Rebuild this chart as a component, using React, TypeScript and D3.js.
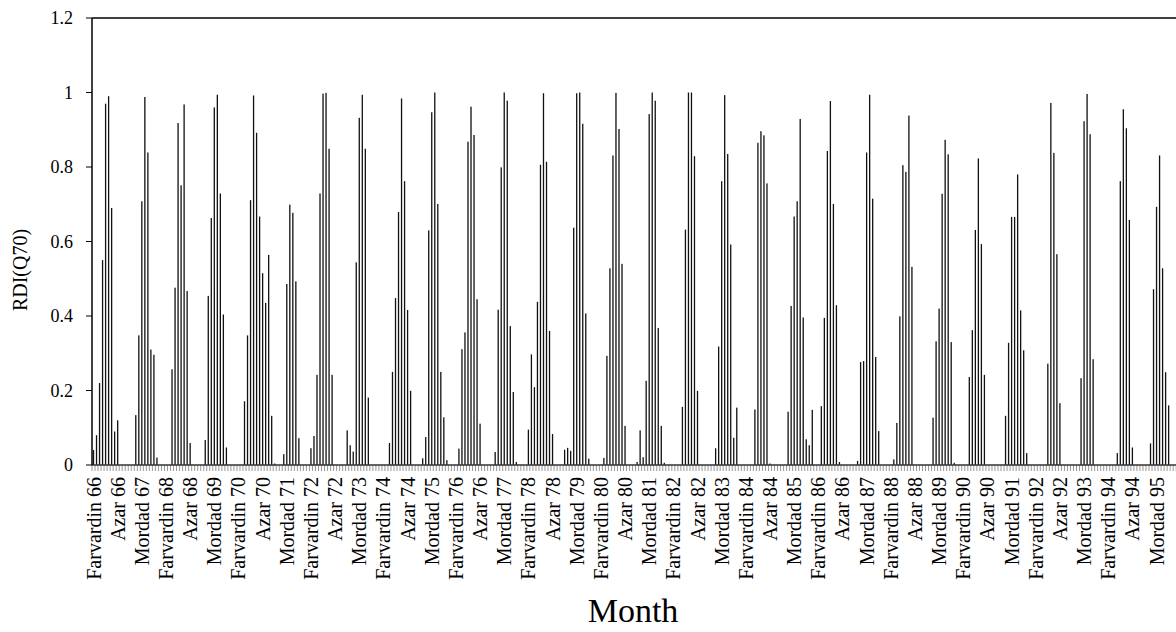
import React from 'react';
import * as d3 from 'd3';

// Persian calendar months, water-year order
const monthNames = [
  'Farvardin', 'Ordibehesht', 'Khordad', 'Tir', 'Mordad', 'Shahrivar',
  'Mehr', 'Aban', 'Azar', 'Dey', 'Bahman', 'Esfand',
];

const years = d3.range(66, 96);

// RDI(Q70), one row per year (Farvardin..Esfand)
const rdi = [
  0.04, 0.08, 0.22, 0.55, 0.97, 0.99, 0.69, 0.09, 0.12, 0, 0, 0, // 66
  0, 0, 0.134, 0.348, 0.708, 0.988, 0.839, 0.31, 0.296, 0.02, 0, 0, // 67
  0, 0, 0.257, 0.476, 0.918, 0.751, 0.968, 0.467, 0.059, 0, 0, 0, // 68
  0, 0.067, 0.454, 0.663, 0.96, 0.994, 0.729, 0.404, 0.047, 0, 0, 0, // 69
  0, 0, 0.171, 0.348, 0.711, 0.992, 0.892, 0.667, 0.515, 0.435, 0.564, 0.132, // 70
  0.004, 0, 0, 0.029, 0.486, 0.699, 0.677, 0.493, 0.072, 0, 0, 0, // 71
  0.045, 0.078, 0.242, 0.729, 0.997, 0.999, 0.849, 0.242, 0, 0, 0, 0, // 72
  0.093, 0.053, 0.036, 0.544, 0.932, 0.994, 0.849, 0.181, 0, 0, 0, 0, // 73
  0, 0, 0.059, 0.25, 0.448, 0.679, 0.984, 0.762, 0.416, 0.199, 0, 0, // 74
  0, 0.018, 0.075, 0.63, 0.947, 1.0, 0.701, 0.25, 0.128, 0.013, 0, 0, // 75
  0, 0.044, 0.311, 0.356, 0.868, 0.962, 0.886, 0.445, 0.111, 0, 0, 0, // 76
  0, 0.035, 0.417, 0.799, 1.0, 0.978, 0.373, 0.196, 0.008, 0, 0, 0, // 77
  0.095, 0.297, 0.209, 0.438, 0.806, 0.998, 0.814, 0.36, 0.083, 0, 0, 0, // 78
  0.041, 0.046, 0.038, 0.637, 0.998, 1.0, 0.916, 0.407, 0.017, 0, 0, 0, // 79
  0, 0.019, 0.293, 0.528, 0.831, 0.999, 0.902, 0.54, 0.105, 0, 0, 0, // 80
  0.008, 0.093, 0.021, 0.226, 0.942, 1.0, 0.978, 0.368, 0.105, 0.006, 0, 0, // 81
  0, 0, 0, 0.156, 0.632, 1.0, 1.0, 0.829, 0.199, 0, 0, 0, // 82
  0, 0, 0.045, 0.318, 0.762, 0.993, 0.835, 0.592, 0.073, 0.154, 0, 0, // 83
  0, 0, 0, 0.149, 0.865, 0.896, 0.885, 0.756, 0.004, 0, 0, 0, // 84
  0, 0, 0.143, 0.427, 0.667, 0.708, 0.929, 0.396, 0.069, 0.053, 0.148, 0, // 85
  0, 0.158, 0.395, 0.843, 0.977, 0.701, 0.429, 0.008, 0, 0, 0, 0, // 86
  0, 0.011, 0.276, 0.279, 0.839, 0.994, 0.715, 0.29, 0.091, 0, 0, 0, // 87
  0, 0.015, 0.113, 0.399, 0.805, 0.787, 0.938, 0.532, 0, 0, 0, 0, // 88
  0, 0, 0.127, 0.332, 0.42, 0.728, 0.873, 0.834, 0.33, 0.006, 0, 0, // 89
  0, 0, 0.236, 0.362, 0.631, 0.823, 0.593, 0.242, 0, 0, 0, 0, // 90
  0, 0, 0.132, 0.328, 0.666, 0.666, 0.78, 0.415, 0.308, 0.032, 0, 0, // 91
  0, 0, 0, 0, 0.272, 0.972, 0.838, 0.566, 0.166, 0, 0, 0, // 92
  0, 0, 0, 0.233, 0.923, 0.996, 0.888, 0.284, 0, 0, 0, 0, // 93
  0, 0, 0, 0.032, 0.762, 0.955, 0.904, 0.658, 0.047, 0, 0, 0, // 94
  0, 0, 0.058, 0.472, 0.693, 0.831, 0.528, 0.249, 0.16, 0, 0, 0, // 95
];

const yTicks = [0, 0.2, 0.4, 0.6, 0.8, 1, 1.2];
const labelEvery = 8;

const W = 1176;
const H = 632;
const margin = { top: 18, left: 92, bottom: 167 };
const plotRight = margin.left + 360 * 3.02;
const font = '"Liberation Serif", "Times New Roman", serif';

const App = () => {
  const months = years.flatMap(y => monthNames.map(m => ({ month: m, year: y })));
  const data = months.map((d, i) => ({ ...d, i, value: rdi[i] }));

  const x = d3
    .scaleBand<number>()
    .domain(data.map(d => d.i))
    .range([margin.left, plotRight])
    .padding(0);

  const y = d3
    .scaleLinear()
    .domain([0, 1.2])
    .range([H - margin.bottom, margin.top]);

  const barW = 1.3;
  const bw = x.bandwidth();
  const y0 = y(0);

  // tick marks sit between categories
  const boundaries = d3.range(data.length + 1).map(k => margin.left + k * bw);

  const labelled = data.filter(d => d.i % labelEvery === 0);

  return (
    <div style={{ position: 'absolute', left: 0, top: 0 }}>
      <svg width={W} height={H} style={{ display: 'block', background: '#fff' }}>
        {/* bars */}
        {data
          .filter(d => d.value > 0)
          .map(d => (
            <rect
              key={d.i}
              x={(x(d.i) as number) + bw / 2 - barW / 2}
              y={y(d.value)}
              width={barW}
              height={y0 - y(d.value)}
              fill="#111"
            />
          ))}

        {/* x ticks */}
        {boundaries.map((bx, k) => (
          <line key={k} x1={bx} x2={bx} y1={y0} y2={y0 + 6} stroke="#999" strokeWidth={1} />
        ))}
        <line x1={margin.left} x2={plotRight} y1={y0} y2={y0} stroke="#333" strokeWidth={1.5} />

        {/* frame */}
        <line x1={margin.left} x2={plotRight} y1={margin.top} y2={margin.top} stroke="#000" strokeWidth={1.5} />
        <line x1={margin.left} x2={margin.left} y1={margin.top} y2={y0} stroke="#000" strokeWidth={1.5} />

        {/* y axis */}
        {yTicks.map(t => (
          <g key={t}>
            <line x1={margin.left - 6} x2={margin.left} y1={y(t)} y2={y(t)} stroke="#000" strokeWidth={1} />
            <text
              x={73}
              y={y(t)}
              dy="0.35em"
              textAnchor="end"
              fontFamily={font}
              fontSize={18}
              fill="#000"
            >
              {d3.format('~g')(t)}
            </text>
          </g>
        ))}

        {/* x labels */}
        {labelled.map(d => (
          <text
            key={d.i}
            transform={`translate(${(x(d.i) as number) + bw / 2},${y0 + 12}) rotate(-90)`}
            dy="0.35em"
            textAnchor="end"
            fontFamily={font}
            fontSize={20}
            fill="#000"
          >
            {`${d.month} ${d.year}`}
          </text>
        ))}

        <text
          transform="translate(20,270) rotate(-90)"
          dy="0.35em"
          textAnchor="middle"
          fontFamily={font}
          fontSize={20}
          fill="#000"
        >
          RDI(Q70)
        </text>

        <text x={633} y={622} textAnchor="middle" fontFamily={font} fontSize={34} fill="#000">
          Month
        </text>
      </svg>
    </div>
  );
};

export default App;
